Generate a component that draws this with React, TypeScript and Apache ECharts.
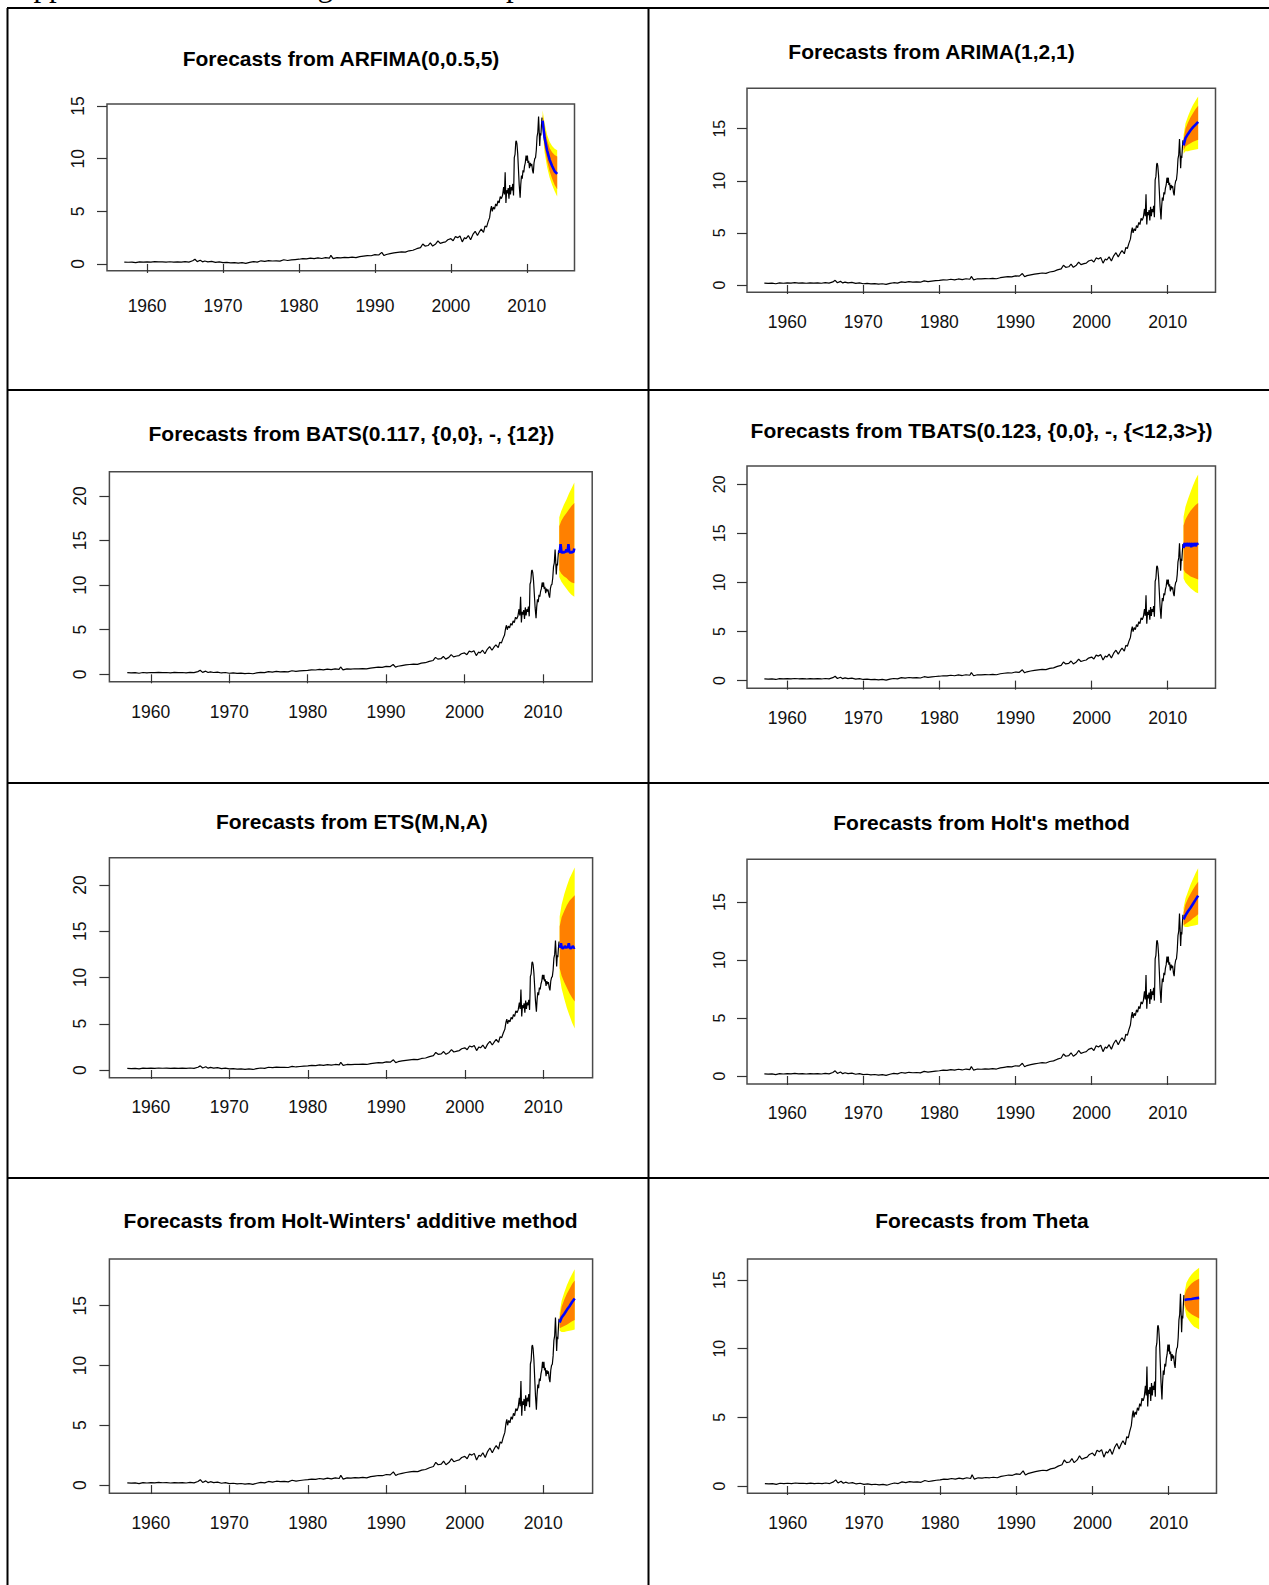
import React, { useEffect, useRef } from "react";
import * as echarts from "echarts";

// ---------------- DATA ----------------
// Historical monthly series (thinned)
const HISTORY: [number, number][] = [
  [1957.0, 0.18], [1957.5, 0.16], [1958.0, 0.18], [1958.5, 0.12], [1959.0, 0.2], [1959.5, 0.17],
  [1960.0, 0.2], [1960.5, 0.18], [1961.0, 0.22], [1961.5, 0.19], [1962.0, 0.2], [1962.5, 0.17],
  [1963.0, 0.21], [1963.5, 0.18], [1964.0, 0.2], [1964.5, 0.17], [1965.0, 0.22], [1965.5, 0.18],
  [1966.0, 0.3], [1966.3, 0.45], [1966.6, 0.22], [1967.0, 0.35], [1967.3, 0.2], [1967.6, 0.28],
  [1968.0, 0.2], [1968.5, 0.25], [1969.0, 0.15], [1969.5, 0.2], [1970.0, 0.12], [1970.5, 0.15],
  [1971.0, 0.1], [1971.5, 0.13], [1972.0, 0.08], [1972.5, 0.12], [1973.0, 0.06], [1973.5, 0.15],
  [1974.0, 0.22], [1974.5, 0.18], [1975.0, 0.3], [1975.5, 0.25], [1976.0, 0.32], [1976.5, 0.28],
  [1977.0, 0.3], [1977.5, 0.27], [1978.0, 0.4], [1978.5, 0.33], [1979.0, 0.38], [1979.5, 0.42],
  [1980.0, 0.45], [1980.5, 0.5], [1981.0, 0.48], [1981.5, 0.55], [1982.0, 0.5], [1982.5, 0.58],
  [1983.0, 0.52], [1983.5, 0.6], [1984.0, 0.55], [1984.2, 0.82], [1984.5, 0.5], [1985.0, 0.6],
  [1985.5, 0.58], [1986.0, 0.62], [1986.5, 0.6], [1987.0, 0.64], [1987.5, 0.6], [1988.0, 0.7],
  [1988.5, 0.75], [1989.0, 0.8], [1989.5, 0.78], [1990.0, 0.88], [1990.5, 0.85], [1990.9, 1.1],
  [1991.2, 0.8], [1991.5, 0.9], [1992.0, 0.98], [1992.5, 1.05], [1993.0, 1.1], [1993.5, 1.15],
  [1994.0, 1.12], [1994.5, 1.25], [1995.0, 1.3], [1995.5, 1.45], [1996.0, 1.55], [1996.3, 1.9],
  [1996.6, 1.7], [1997.0, 1.75], [1997.3, 2.0], [1997.6, 1.7], [1998.0, 1.9], [1998.3, 2.2],
  [1998.6, 1.95], [1999.0, 2.05], [1999.3, 2.1], [1999.6, 2.3], [2000.0, 2.4], [2000.3, 2.2],
  [2000.6, 2.6], [2000.9, 2.5], [2001.2, 2.65], [2001.5, 2.1], [2001.8, 2.5], [2002.0, 2.4],
  [2002.3, 2.7], [2002.6, 2.3], [2002.9, 2.8], [2003.2, 3.1], [2003.5, 2.7], [2003.8, 3.1],
  [2004.0, 3.3], [2004.3, 3.0], [2004.5, 3.6], [2004.7, 3.5], [2004.9, 4.0], [2005.1, 4.4],
  [2005.25, 5.2], [2005.35, 5.5], [2005.45, 5.0], [2005.6, 5.4], [2005.75, 5.2], [2005.9, 5.7],
  [2006.05, 5.5], [2006.2, 6.0], [2006.35, 5.8], [2006.5, 6.4], [2006.65, 6.2], [2006.8, 6.5],
  [2006.95, 7.3], [2007.05, 6.6], [2007.15, 8.7], [2007.25, 5.8], [2007.35, 7.0], [2007.45, 6.7],
  [2007.55, 7.2], [2007.65, 6.2], [2007.75, 7.5], [2007.85, 6.6], [2007.95, 7.3], [2008.05, 7.0],
  [2008.15, 7.6], [2008.25, 6.5], [2008.3, 8.0], [2008.35, 10.1], [2008.45, 10.4], [2008.55, 11.6],
  [2008.62, 11.7], [2008.7, 11.4], [2008.8, 10.5], [2008.9, 9.0], [2009.0, 7.5], [2009.12, 6.3],
  [2009.2, 7.5], [2009.3, 8.4], [2009.4, 8.1], [2009.5, 8.9], [2009.6, 8.7], [2009.7, 9.3],
  [2009.8, 9.6], [2009.9, 10.3], [2010.0, 9.8], [2010.08, 10.3], [2010.15, 9.6], [2010.25, 9.8],
  [2010.35, 9.1], [2010.45, 9.6], [2010.55, 9.3], [2010.65, 9.5], [2010.75, 8.9], [2010.85, 8.6],
  [2010.95, 9.6], [2011.05, 10.0], [2011.15, 10.1], [2011.25, 10.8], [2011.35, 12.1], [2011.45, 12.5],
  [2011.55, 14.0], [2011.62, 12.8], [2011.7, 11.2], [2011.78, 12.4], [2011.85, 12.2], [2011.92, 13.1],
  [2012.0, 13.9],
];

const FC_T7 = [2012.083, 2012.333, 2012.667, 2013.0, 2013.333, 2013.667, 2014.0];
const FC_MONTHS = [
  2012.083, 2012.167, 2012.25, 2012.333, 2012.417, 2012.5, 2012.583, 2012.667, 2012.75, 2012.833,
  2012.917, 2013.0, 2013.083, 2013.167, 2013.25, 2013.333, 2013.417, 2013.5, 2013.583, 2013.667,
  2013.75, 2013.833, 2013.917, 2014.0,
];

const X_TICKS = [1960, 1970, 1980, 1990, 2000, 2010];
const Y_TICKS_15 = [0, 5, 10, 15];
const Y_TICKS_20 = [0, 5, 10, 15, 20];

// ARFIMA(0,0.5,5)
const ARFIMA_MEAN = [13.6, 12.0, 10.8, 9.9, 9.3, 8.8, 8.55];
const ARFIMA_LO80 = [13.0, 11.1, 9.8, 8.8, 8.1, 7.5, 7.1];
const ARFIMA_HI80 = [14.2, 12.9, 11.8, 11.0, 10.6, 10.35, 10.2];
const ARFIMA_LO95 = [12.7, 10.6, 9.2, 8.2, 7.5, 6.9, 6.4];
const ARFIMA_HI95 = [14.6, 13.4, 12.3, 11.6, 11.2, 10.95, 10.8];

// ARIMA(1,2,1)
const ARIMA_MEAN = [13.4, 14.1, 14.5, 14.85, 15.15, 15.4, 15.65];
const ARIMA_LO80 = [12.9, 13.3, 13.45, 13.6, 13.75, 13.85, 13.95];
const ARIMA_HI80 = [14.0, 15.0, 15.6, 16.1, 16.5, 16.9, 17.2];
const ARIMA_LO95 = [12.6, 12.85, 12.85, 12.9, 12.95, 13.0, 13.05];
const ARIMA_HI95 = [14.4, 15.5, 16.2, 16.8, 17.3, 17.7, 18.1];

// BATS(0.117, {0,0}, -, {12})
const BATS_MEAN = [
  13.6, 13.9, 14.6, 13.9, 13.7, 13.6, 13.7, 13.6, 13.8, 13.7, 13.8, 14.0,
  13.7, 13.9, 14.6, 13.9, 13.7, 13.6, 13.7, 13.6, 13.8, 13.7, 13.8, 14.1,
];
const BATS_LO80 = [11.7, 11.3, 11.0, 10.8, 10.5, 10.3, 10.2];
const BATS_HI80 = [16.6, 17.2, 17.7, 18.1, 18.5, 18.9, 19.2];
const BATS_LO95 = [10.9, 10.4, 10.0, 9.6, 9.2, 8.9, 8.7];
const BATS_HI95 = [17.6, 18.3, 19.0, 19.6, 20.3, 20.9, 21.5];

// TBATS(0.123, {0,0}, -, {<12,3>})
const TBATS_MEAN = [
  13.5, 13.9, 14.0, 13.7, 13.8, 14.0, 13.9, 13.7, 13.8, 14.0, 13.9, 13.8,
  13.6, 13.9, 14.0, 13.7, 13.8, 14.0, 13.9, 13.7, 13.8, 14.0, 13.9, 14.0,
];
const TBATS_LO80 = [11.3, 11.0, 10.8, 10.6, 10.5, 10.4, 10.3];
const TBATS_HI80 = [15.8, 16.4, 16.9, 17.3, 17.6, 17.9, 18.1];
const TBATS_LO95 = [10.4, 10.0, 9.7, 9.4, 9.2, 9.0, 8.9];
const TBATS_HI95 = [16.7, 17.7, 18.5, 19.2, 19.9, 20.5, 21.0];

// ETS(M,N,A)
const ETS_MEAN = [
  13.2, 13.4, 13.7, 13.3, 13.2, 13.1, 13.3, 13.2, 13.4, 13.3, 13.2, 13.3,
  13.2, 13.4, 13.7, 13.3, 13.2, 13.1, 13.3, 13.2, 13.4, 13.3, 13.2, 13.25,
];
const ETS_LO80 = [11.0, 10.2, 9.5, 8.9, 8.3, 7.8, 7.4];
const ETS_HI80 = [15.5, 16.5, 17.2, 17.8, 18.3, 18.6, 18.9];
const ETS_LO95 = [10.1, 8.8, 7.7, 6.7, 5.9, 5.1, 4.5];
const ETS_HI95 = [16.6, 17.9, 19.0, 19.9, 20.7, 21.3, 21.9];

// Holt's method
const HOLT_MEAN = [13.5, 13.85, 14.2, 14.5, 14.85, 15.2, 15.55];
const HOLT_LO80 = [13.0, 13.1, 13.25, 13.4, 13.6, 13.75, 13.95];
const HOLT_HI80 = [14.1, 14.8, 15.3, 15.7, 16.1, 16.45, 16.75];
const HOLT_LO95 = [12.9, 12.85, 12.85, 12.9, 12.95, 13.0, 13.05];
const HOLT_HI95 = [14.5, 15.3, 15.9, 16.5, 17.0, 17.5, 17.9];

// Holt-Winters' additive method
const HW_MEAN = [13.6, 14.0, 14.3, 14.65, 14.95, 15.3, 15.6];
const HW_LO80 = [13.1, 13.2, 13.3, 13.4, 13.55, 13.7, 13.8];
const HW_HI80 = [14.0, 14.9, 15.5, 16.0, 16.4, 16.8, 17.1];
const HW_LO95 = [12.9, 12.8, 12.8, 12.85, 12.9, 12.95, 13.0];
const HW_HI95 = [14.4, 15.4, 16.1, 16.7, 17.2, 17.65, 18.05];

// Theta
const THETA_MEAN = [13.55, 13.58, 13.6, 13.62, 13.65, 13.68, 13.7];
const THETA_LO80 = [13.2, 12.85, 12.65, 12.5, 12.4, 12.3, 12.2];
const THETA_HI80 = [13.9, 14.3, 14.55, 14.75, 14.9, 15.0, 15.1];
const THETA_LO95 = [13.0, 12.35, 12.05, 11.8, 11.6, 11.5, 11.4];
const THETA_HI95 = [14.1, 14.8, 15.15, 15.4, 15.6, 15.75, 15.9];

const TITLES = [
  "Forecasts from ARFIMA(0,0.5,5)",
  "Forecasts from ARIMA(1,2,1)",
  "Forecasts from BATS(0.117, {0,0}, -, {12})",
  "Forecasts from TBATS(0.123, {0,0}, -, {<12,3>})",
  "Forecasts from ETS(M,N,A)",
  "Forecasts from Holt's method",
  "Forecasts from Holt-Winters' additive method",
  "Forecasts from Theta",
];

const FORECASTS = [
  { meanT: FC_T7, mean: ARFIMA_MEAN, lo80: ARFIMA_LO80, hi80: ARFIMA_HI80, lo95: ARFIMA_LO95, hi95: ARFIMA_HI95 },
  { meanT: FC_T7, mean: ARIMA_MEAN, lo80: ARIMA_LO80, hi80: ARIMA_HI80, lo95: ARIMA_LO95, hi95: ARIMA_HI95 },
  { meanT: FC_MONTHS, mean: BATS_MEAN, lo80: BATS_LO80, hi80: BATS_HI80, lo95: BATS_LO95, hi95: BATS_HI95 },
  { meanT: FC_MONTHS, mean: TBATS_MEAN, lo80: TBATS_LO80, hi80: TBATS_HI80, lo95: TBATS_LO95, hi95: TBATS_HI95 },
  { meanT: FC_MONTHS, mean: ETS_MEAN, lo80: ETS_LO80, hi80: ETS_HI80, lo95: ETS_LO95, hi95: ETS_HI95 },
  { meanT: FC_T7, mean: HOLT_MEAN, lo80: HOLT_LO80, hi80: HOLT_HI80, lo95: HOLT_LO95, hi95: HOLT_HI95 },
  { meanT: FC_T7, mean: HW_MEAN, lo80: HW_LO80, hi80: HW_HI80, lo95: HW_LO95, hi95: HW_HI95 },
  { meanT: FC_T7, mean: THETA_MEAN, lo80: THETA_LO80, hi80: THETA_HI80, lo95: THETA_LO95, hi95: THETA_HI95 },
];

// ---------------- LAYOUT ----------------
const X_MIN = 1954.72;
const X_MAX = 2016.28;

const LAYOUT = [
  { box: [107, 104, 467.5, 166.7], y: [-0.64, 15.19], yTicks: Y_TICKS_15, yFont: 17.5, xMargin: 26, title: [341, 58] },
  { box: [747, 88.3, 468.5, 204], y: [-0.7, 18.88], yTicks: Y_TICKS_15, yFont: 16, xMargin: 21, title: [931.5, 51] },
  { box: [109.4, 471.7, 482.8, 210], y: [-0.83, 22.72], yTicks: Y_TICKS_20, yFont: 17.5, xMargin: 21, title: [351.4, 433] },
  { box: [747, 466, 468.5, 222.3], y: [-0.78, 21.86], yTicks: Y_TICKS_20, yFont: 16, xMargin: 21, title: [981.5, 430] },
  { box: [109.4, 857.7, 483.2, 220], y: [-0.83, 22.95], yTicks: Y_TICKS_20, yFont: 17.5, xMargin: 20, title: [351.9, 821.7] },
  { box: [747, 859.3, 468.5, 224.7], y: [-0.69, 18.68], yTicks: Y_TICKS_15, yFont: 16, xMargin: 20, title: [981.6, 822.7] },
  { box: [109.4, 1259, 483.2, 234.3], y: [-0.69, 18.9], yTicks: Y_TICKS_15, yFont: 17.5, xMargin: 21, title: [350.6, 1220] },
  { box: [747.5, 1259, 469, 234.3], y: [-0.53, 16.53], yTicks: Y_TICKS_15, yFont: 16, xMargin: 21, title: [982, 1220.7] },
];

const YELLOW = "#FFFF00";
const ORANGE = "#FF8000";
const BLUE = "#0000FF";

function bandSeries(idx: number, t: number[], lo: number[], hi: number[], color: string) {
  return {
    type: "custom",
    xAxisIndex: idx,
    yAxisIndex: idx,
    silent: true,
    clip: true,
    data: t.map((x, j) => [x, lo[j], hi[j]]),
    encode: { x: 0, y: [1, 2] },
    renderItem: (params: any, api: any) => {
      if (params.dataIndex !== 0) return null;
      const pts: number[][] = [];
      for (let j = 0; j < t.length; j++) pts.push(api.coord([t[j], hi[j]]));
      for (let j = t.length - 1; j >= 0; j--) pts.push(api.coord([t[j], lo[j]]));
      return { type: "polygon", shape: { points: pts }, style: { fill: color, stroke: null } };
    },
  };
}

function buildOption() {
  const grids: any[] = [];
  const xAxes: any[] = [];
  const yAxes: any[] = [];
  const series: any[] = [];
  const graphics: any[] = [];

  LAYOUT.forEach((p, i) => {
    const [left, top, width, height] = p.box;
    grids.push({
      left, top, width, height,
      show: true,
      borderColor: "#4a4a4a",
      borderWidth: 1.5,
      backgroundColor: "transparent",
      containLabel: false,
      outerBoundsMode: "none",
    });
    xAxes.push({
      type: "value",
      gridIndex: i,
      min: X_MIN,
      max: X_MAX,
      axisLine: { show: false },
      splitLine: { show: false },
      axisTick: { show: true, length: 9, lineStyle: { color: "#333", width: 1.2 }, customValues: X_TICKS },
      axisLabel: {
        customValues: X_TICKS,
        margin: p.xMargin,
        fontSize: 17.5,
        color: "#111",
        fontFamily: "Liberation Sans, Arial, sans-serif",
        formatter: (v: number) => String(Math.round(v)),
      },
    });
    yAxes.push({
      type: "value",
      gridIndex: i,
      min: p.y[0],
      max: p.y[1],
      axisLine: { show: false },
      splitLine: { show: false },
      axisTick: { show: true, length: 10, lineStyle: { color: "#333", width: 1.2 }, customValues: p.yTicks },
      axisLabel: {
        customValues: p.yTicks,
        rotate: 90,
        margin: 20,
        fontSize: p.yFont,
        color: "#111",
        fontFamily: "Liberation Sans, Arial, sans-serif",
        formatter: (v: number) => String(Math.round(v)),
      },
    });

    const fc = FORECASTS[i];
    series.push({
      type: "line",
      xAxisIndex: i,
      yAxisIndex: i,
      data: HISTORY,
      symbol: "none",
      silent: true,
      lineStyle: { color: "#000", width: 1.2 },
    });
    series.push(bandSeries(i, FC_T7, fc.lo95, fc.hi95, YELLOW));
    series.push(bandSeries(i, FC_T7, fc.lo80, fc.hi80, ORANGE));
    series.push({
      type: "line",
      xAxisIndex: i,
      yAxisIndex: i,
      data: fc.meanT.map((t, j) => [t, fc.mean[j]]),
      symbol: "none",
      silent: true,
      lineStyle: { color: BLUE, width: 2.6 },
    });

    graphics.push({
      type: "text",
      x: p.title[0],
      y: p.title[1],
      style: {
        text: TITLES[i],
        fontSize: 21,
        fontWeight: "bold",
        fontFamily: "Liberation Sans, Arial, sans-serif",
        fill: "#000",
        align: "center",
        verticalAlign: "middle",
      },
    });
  });

  // table borders
  const B = { stroke: "#000", lineWidth: 2 };
  const lines = [
    [7, 8, 1269, 8],
    [7.5, 8, 7.5, 1585],
    [648.5, 8, 648.5, 1585],
    [7, 390, 1269, 390],
    [7, 783, 1269, 783],
    [7, 1178, 1269, 1178],
  ];
  lines.forEach(([x1, y1, x2, y2]) =>
    graphics.push({ type: "line", shape: { x1, y1, x2, y2 }, style: B, silent: true })
  );
  // heading text cut off by the top edge of the page (only its descenders show)
  graphics.push({
    type: "text",
    x: 11,
    y: -15,
    style: {
      text: "Appendix III: Forecasting results for imports",
      fontSize: 31,
      fontFamily: "Liberation Serif, Times New Roman, serif",
      fill: "#000",
      align: "left",
      verticalAlign: "middle",
    },
  });

  return {
    animation: false,
    backgroundColor: "#fff",
    grid: grids,
    xAxis: xAxes,
    yAxis: yAxes,
    series,
    graphic: graphics,
  };
}

export default function App() {
  const ref = useRef<HTMLDivElement>(null);
  useEffect(() => {
    if (!ref.current) return;
    const chart = echarts.init(ref.current, null, { renderer: "svg" });
    chart.setOption(buildOption() as any);
    return () => chart.dispose();
  }, []);
  return (
    <div
      ref={ref}
      style={{ position: "absolute", left: 0, top: 0, width: 1269, height: 1585, background: "#fff" }}
    />
  );
}
